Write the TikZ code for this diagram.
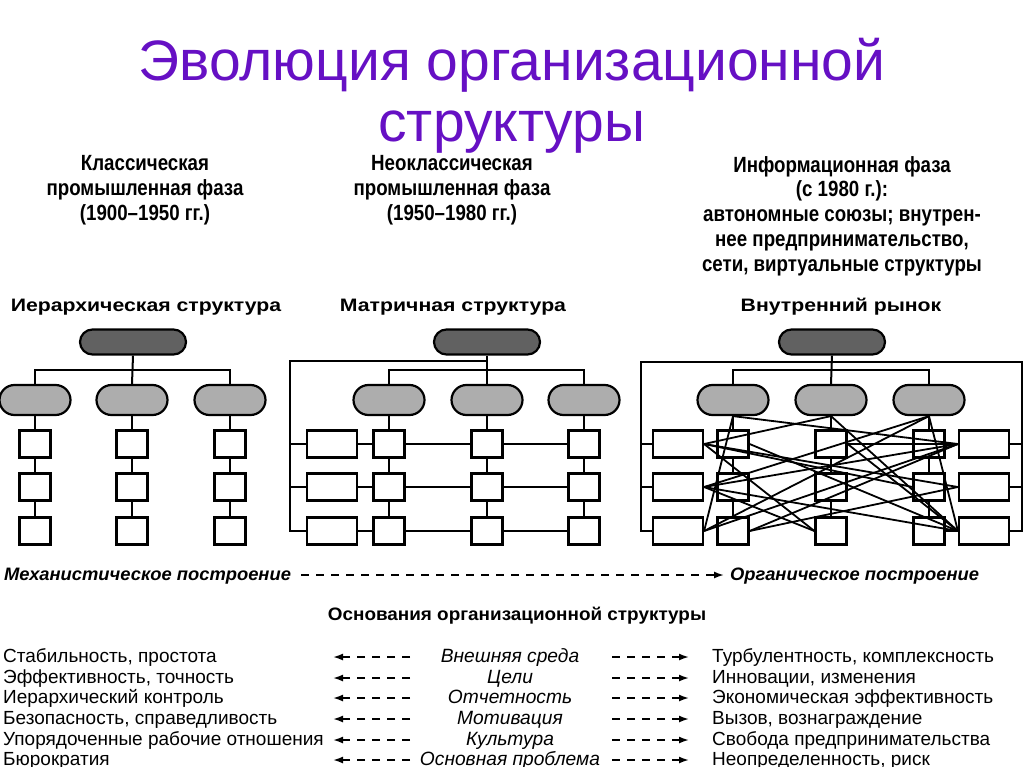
\documentclass[tikz,border=0pt]{standalone}
\usepackage{fontspec}
\setmainfont{Liberation Sans}
\newfontfamily\narrowfont[FakeStretch=0.85]{Liberation Sans}
\newfontfamily\widefont[FakeStretch=1.18]{Liberation Sans}
\newfontfamily\semiwidefont[FakeStretch=1.05]{Liberation Sans}
\newfontfamily\biwidefont[FakeStretch=1.02]{Liberation Sans}
\usetikzlibrary{arrows.meta}
\definecolor{titlecol}{RGB}{102,16,196}
\begin{document}
\begin{tikzpicture}[x=1pt,y=-1pt,
  ln/.style={line width=2pt},
  box/.style={draw,line width=2.2pt,minimum width=31pt,minimum height=27pt,inner sep=0pt},
  wbox/.style={box,minimum width=50pt},
  topov/.style={draw,line width=2.2pt,rounded corners=12.5pt,fill=black!62,minimum width=106pt,minimum height=25pt,inner sep=0pt},
  midov/.style={draw,line width=2.2pt,rounded corners=15pt,fill=black!32,minimum width=71pt,minimum height=30pt,inner sep=0pt},
  ttl/.style={font=\fontsize{57}{60}\selectfont,text=titlecol,anchor=base,inner sep=0pt},
  hdr/.style={font=\narrowfont\bfseries\fontsize{22}{24}\selectfont,anchor=base,inner sep=0pt},
  stitle/.style={font=\widefont\bfseries\fontsize{18}{20}\selectfont,anchor=base,inner sep=0pt},
  bi/.style={font=\biwidefont\bfseries\itshape\fontsize{18}{20}\selectfont,anchor=base west,inner sep=0pt},
  bc/.style={font=\semiwidefont\bfseries\fontsize{18}{20}\selectfont,anchor=base,inner sep=0pt},
  lt/.style={font=\fontsize{19}{20}\selectfont,anchor=base west,inner sep=0pt},
  ct/.style={font=\itshape\fontsize{19.2}{20}\selectfont,anchor=base,inner sep=0pt},
  darr/.style={line width=1.7pt,dash pattern=on 8pt off 7pt,-{Latex[length=10pt,width=7pt]}},
  tl/.style={line width=1.8pt}
]
\useasboundingbox (0,0) rectangle (1024,767);

% ---------- title ----------
\node[ttl] (title1) at (512,81) {Эволюция организационной};
\node[ttl] (title2) at (512,142) {структуры};

% ---------- phase headers ----------
\node[hdr] (h11) at (145,171) {Классическая};
\node[hdr] (h12) at (145,196) {промышленная фаза};
\node[hdr] (h13) at (145,221) {(1900–1950 гг.)};
\node[hdr] (h21) at (452,171) {Неоклассическая};
\node[hdr] (h22) at (452,196) {промышленная фаза};
\node[hdr] (h23) at (452,221) {(1950–1980 гг.)};
\node[hdr] (h31) at (842,173) {Информационная фаза};
\node[hdr] (h32) at (842,197) {(с 1980 г.):};
\node[hdr] (h33) at (842,222) {автономные союзы; внутрен-};
\node[hdr] (h34) at (842,247) {нее предпринимательство,};
\node[hdr] (h35) at (842,271) {сети, виртуальные структуры};

% ---------- structure titles ----------
\node[stitle] (s1) at (146,311) {Иерархическая структура};
\node[stitle] (s2) at (453,311) {Матричная структура};
\node[stitle] (s3) at (841,311) {Внутренний рынок};

% ================= diagram 1 =================
\node[topov] (T1) at (133,342) {};
\foreach \c/\x in {1/35,2/132,3/230}{
  \node[midov] (M1\c) at (\x,400) {};
  \foreach \r/\y in {1/444,2/487,3/531}{
    \node[box] (B1\c\r) at (\x,\y) {};
  }
  \draw[ln] (M1\c.south) -- (B1\c1.north);
  \draw[ln] (B1\c1.south) -- (B1\c2.north);
  \draw[ln] (B1\c2.south) -- (B1\c3.north);
}
\coordinate (h1) at (132,370);
\draw[ln] (T1.south) -- (M12.north);
\draw[ln] (M11.north) |- (h1) -| (M13.north);

% ================= diagram 2 =================
\node[topov] (T2) at (487,342) {};
\foreach \c/\x in {1/389,2/487,3/584}{
  \node[midov] (M2\c) at (\x,400) {};
  \foreach \r/\y in {1/444,2/487,3/531}{
    \node[box] (S2\c\r) at (\x,\y) {};
  }
  \draw[ln] (M2\c.south) -- (S2\c1.north);
  \draw[ln] (S2\c1.south) -- (S2\c2.north);
  \draw[ln] (S2\c2.south) -- (S2\c3.north);
}
\foreach \r/\y in {1/444,2/487,3/531}{
  \node[wbox] (W2\r) at (332,\y) {};
  \draw[ln] (W2\r.east) -- (S21\r.west);
  \draw[ln] (S21\r.east) -- (S22\r.west);
  \draw[ln] (S22\r.east) -- (S23\r.west);
}
\coordinate (h2) at (487,370);
\coordinate (f2a) at (290,361);
\coordinate (f2t) at (487,361);
\coordinate (f2b) at (290,531);
\draw[ln] (T2.south) -- (M22.north);
\draw[ln] (M21.north) |- (h2) -| (M23.north);
\draw[ln] (f2t) -- (f2a) -- (f2b) -- (W23.west);
\draw[ln] (W21.west) -- (W21.west -| f2a);
\draw[ln] (W22.west) -- (W22.west -| f2a);

% ================= diagram 3 =================
\node[topov] (T3) at (832,342) {};
\foreach \c/\x in {1/733,2/831,3/929}{
  \node[midov] (M3\c) at (\x,400) {};
  \foreach \r/\y in {1/444,2/487,3/531}{
    \node[box] (S3\c\r) at (\x,\y) {};
  }
  \draw[ln] (M3\c.south) -- (S3\c1.north);
  \draw[ln] (S3\c1.south) -- (S3\c2.north);
  \draw[ln] (S3\c2.south) -- (S3\c3.north);
}
\foreach \r/\y in {1/444,2/487,3/531}{
  \node[wbox] (L\r) at (678,\y) {};
  \node[wbox] (R\r) at (984,\y) {};
}
\coordinate (h3) at (831,370);
\coordinate (f3t) at (831,362);
\coordinate (f3l) at (641,362);
\coordinate (f3r) at (1022,362);
\coordinate (f3lb) at (641,531);
\coordinate (f3rb) at (1022,531);
\draw[ln] (T3.south) -- (M32.north);
\draw[ln] (M31.north) |- (h3) -| (M33.north);
\draw[ln] (L3.west) -- (f3lb) -- (f3l) -- (f3r) -- (f3rb) -- (R3.east);
\draw[ln] (L1.west) -- (L1.west -| f3l);
\draw[ln] (L2.west) -- (L2.west -| f3l);
\draw[ln] (R1.east) -- (R1.east -| f3r);
\draw[ln] (R2.east) -- (R2.east -| f3r);
\draw[ln] (S333.east) -- (R3.west);
% tangle of market links
\draw[tl] (M31.south) -- (R1.west);
\draw[tl] (M31.south) -- (L3.east);
\draw[tl] (M32.south) -- (L1.east);
\draw[tl] (M32.south) -- (R3.west);
\draw[tl] (M33.south) -- (R3.west);
\draw[tl] (M33.south) -- (L3.east);
\draw[tl] (M33.south) -- (L2.east);
\draw[tl] (L1.east) -- (R2.west);
\draw[tl] (L1.east) -- (S323.west);
\draw[tl] (L1.east) -- (S332.west);
\draw[tl] (L2.east) -- (R1.west);
\draw[tl] (L2.east) -- (S323.west);
\draw[tl] (L2.east) -- (R3.west);
\draw[tl] (L3.east) -- (R1.west);
\draw[tl] (S313.east) -- (R2.west);
\draw[tl] (S313.east) -- (R1.west);
\draw[tl] (S311.east) -- (R3.west);
\draw[tl] (S321.east) -- (R1.west);
\draw[tl] (S321.east) -- (R3.west);

% ================= bottom part =================
\node[bi] (mech) at (4,580) {Механистическое построение};
\node[bi] (org) at (730,580) {Органическое построение};
\coordinate (ma) at (301,575);
\coordinate (mb) at (724,575);
\draw[darr] (ma) -- (mb);

\node[bc] (osn) at (517,620) {Основания организационной структуры};

\foreach \i/\y/\lt/\ct/\rt in {
  1/662/{Стабильность, простота}/{Внешняя среда}/{Турбулентность, комплексность},
  2/683/{Эффективность, точность}/{Цели}/{Инновации, изменения},
  3/703/{Иерархический контроль}/{Отчетность}/{Экономическая эффективность},
  4/724/{Безопасность, справедливость}/{Мотивация}/{Вызов, вознаграждение},
  5/745/{Упорядоченные рабочие отношения}/{Культура}/{Свобода предпринимательства},
  6/765/{Бюрократия}/{Основная проблема}/{Неопределенность, риск}}{
  \node[lt] (lt\i) at (3,\y) {\lt};
  \node[ct] (ct\i) at (510,\y) {\ct};
  \node[lt] (rt\i) at (712,\y) {\rt};
  \coordinate (la\i) at (410,\y-5);
  \coordinate (lb\i) at (333,\y-5);
  \coordinate (ra\i) at (612,\y-5);
  \coordinate (rb\i) at (689,\y-5);
  \draw[darr] (la\i) -- (lb\i);
  \draw[darr] (ra\i) -- (rb\i);
}
\end{tikzpicture}
\end{document}
